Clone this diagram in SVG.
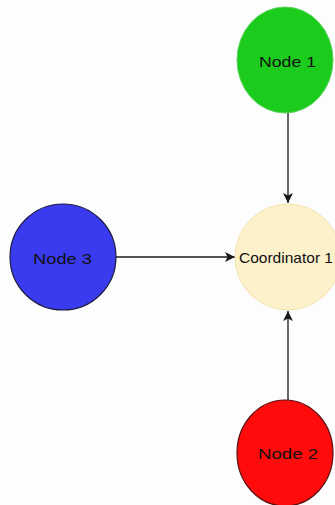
<svg xmlns="http://www.w3.org/2000/svg" width="335" height="505" viewBox="0 0 335 505">
  <style>
    .lbl { font-family: "Liberation Sans", Arial, sans-serif; font-size: 15px; fill: #111; text-anchor: middle; }
    .edge { stroke: #1a1a1a; stroke-width: 1.3; fill: none; }
  </style>
  <defs>
    <marker id="arrow" viewBox="-10 -6 12 12" refX="0" refY="0" markerWidth="12" markerHeight="12" markerUnits="userSpaceOnUse" orient="auto">
      <path d="M0,0 L-10,-5 L-7.5,0 L-10,5 Z" fill="#1a1a1a"/>
    </marker>
  </defs>
  <rect width="335" height="505" fill="#fdfdfd"/>

  <g id="connectors">
    <line class="edge" x1="288" y1="112" x2="288" y2="203" marker-end="url(#arrow)"/>
    <line class="edge" x1="116" y1="257" x2="235" y2="257" marker-end="url(#arrow)"/>
    <line class="edge" x1="288" y1="400" x2="288" y2="311" marker-end="url(#arrow)"/>
  </g>

  <g id="node1">
    <ellipse cx="285" cy="60" rx="48" ry="53" fill="#1ccc1c" stroke="#5fd45f" stroke-width="1"/>
    <text class="lbl" x="287.5" y="67" textLength="57" lengthAdjust="spacingAndGlyphs">Node 1</text>
  </g>

  <g id="coordinator1">
    <ellipse cx="288" cy="257" rx="53" ry="53" fill="#fdf1cb" stroke="#f1e3b0" stroke-width="1"/>
    <text class="lbl" x="286" y="263" textLength="94" lengthAdjust="spacingAndGlyphs">Coordinator 1</text>
  </g>

  <g id="node3">
    <ellipse cx="63" cy="257" rx="53" ry="53" fill="#3a3aee" stroke="#1c1c44" stroke-width="1.2"/>
    <text class="lbl" x="62.5" y="264" textLength="59" lengthAdjust="spacingAndGlyphs">Node 3</text>
  </g>

  <g id="node2">
    <ellipse cx="285" cy="453" rx="48" ry="53" fill="#ff0b0b" stroke="#5a1010" stroke-width="1.2"/>
    <text class="lbl" x="288" y="459" textLength="60" lengthAdjust="spacingAndGlyphs">Node 2</text>
  </g>
</svg>
